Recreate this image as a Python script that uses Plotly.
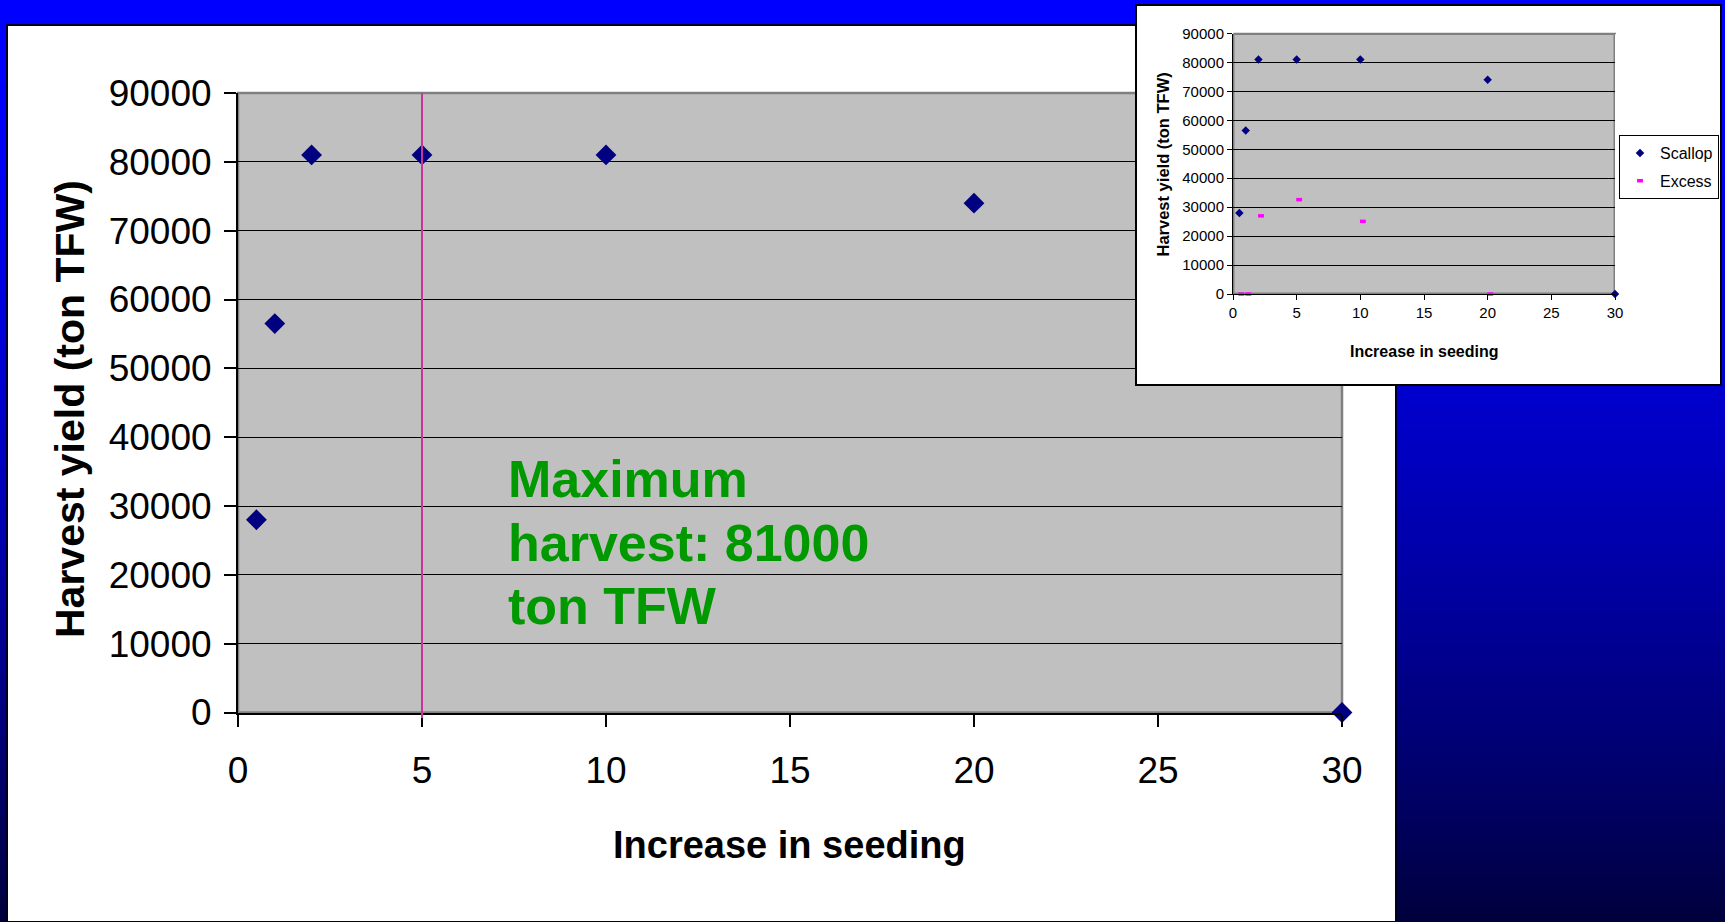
import plotly.graph_objects as go

W, H = 1725, 922

# ---------------- data ----------------
seeding = [0.5, 1, 2, 5, 10, 20, 30]
scallop_yield = [28000, 56500, 81000, 81000, 81000, 74000, 0]
excess_seeding = [0.65, 1.2, 2.2, 5.2, 10.2, 20.2, 30.2]
excess_yield = [0, 0, 27000, 32600, 25100, 0, 0]
max_harvest_seeding = 5
max_harvest_lines = ["Maximum", "harvest: 81000", "ton TFW"]
x_ticks = [0, 5, 10, 15, 20, 25, 30]
y_ticks = [0, 10000, 20000, 30000, 40000, 50000, 60000, 70000, 80000, 90000]
x_range = [0, 30]
y_range = [0, 90000]

FONT = "Arial, 'Liberation Sans', sans-serif"


def px(x):
    return x / W


def py(y):
    return 1 - y / H


# layout boxes in pixels (left, top, right, bottom)
MAIN = (238, 93, 1342, 712.5)
COVER = (1136, 5, 1721, 385)
INSET = (1233, 33.5, 1615, 294)
PANEL = (7, 25, 1396, 922)

fig = go.Figure()

fig.add_trace(go.Scatter(
    x=seeding, y=scallop_yield, mode="markers", xaxis="x", yaxis="y",
    marker=dict(symbol="diamond", size=16, color="#000080"),
    cliponaxis=False, showlegend=False, hoverinfo="skip"))

# empty helper trace so that the inset's white backing subplot exists
fig.add_trace(go.Scatter(
    x=[None], y=[None], mode="markers", xaxis="x2", yaxis="y2",
    showlegend=False, hoverinfo="skip"))

fig.add_trace(go.Scatter(
    x=seeding, y=scallop_yield, mode="markers", xaxis="x3", yaxis="y3",
    name="Scallop", legendgroup="a",
    marker=dict(symbol="diamond", size=6.5, color="#000080"),
    cliponaxis=False))

fig.add_trace(go.Scatter(
    x=excess_seeding, y=excess_yield, mode="markers", xaxis="x3", yaxis="y3",
    name="Excess", legendgroup="b",
    marker=dict(symbol="line-ew", size=4.2, color="#FF00FF",
                line=dict(color="#FF00FF", width=3.5)),
    cliponaxis=False))

shapes = []
# background gradient (blue to dark navy)
N = 120
for i in range(N):
    y0 = H * i / N
    y1 = H * (i + 1) / N
    t = ((y0 + y1) / 2) / H
    b = int(round(255 - 195 * t ** 1.6))
    shapes.append(dict(type="rect", xref="paper", yref="paper", layer="below",
                       x0=0, x1=1, y0=py(min(H, y1 + 1.5)), y1=py(y0),
                       fillcolor=f"rgb(0,0,{b})", line=dict(width=0)))
# white slide panel
shapes.append(dict(type="rect", xref="paper", yref="paper", layer="below",
                   x0=px(PANEL[0]), x1=px(PANEL[2]), y0=py(PANEL[3]), y1=py(PANEL[1]),
                   fillcolor="white", line=dict(color="#000020", width=2)))
# main plot area
shapes.append(dict(type="rect", xref="paper", yref="paper", layer="below",
                   x0=px(MAIN[0]), x1=px(MAIN[2]), y0=py(MAIN[3]), y1=py(MAIN[1]),
                   fillcolor="#C0C0C0", line=dict(color="#808080", width=2.5)))
# inset plot area
shapes.append(dict(type="rect", xref="x3", yref="y3", layer="below",
                   x0=x_range[0], x1=x_range[1], y0=y_range[0], y1=y_range[1],
                   fillcolor="#C0C0C0", line=dict(color="#808080", width=3)))
# grey top borders of plot areas (drawn over the top gridline)
shapes.append(dict(type="line", xref="paper", yref="paper", layer="above",
                   x0=px(MAIN[0] + 1), x1=px(COVER[0]), y0=py(MAIN[1]), y1=py(MAIN[1]),
                   line=dict(color="#808080", width=2)))
shapes.append(dict(type="line", xref="paper", yref="paper", layer="above",
                   x0=px(INSET[0] + 0.5), x1=px(INSET[2] + 1), y0=py(INSET[1]), y1=py(INSET[1]),
                   line=dict(color="#808080", width=1.5)))
# maximum line
shapes.append(dict(type="line", xref="x", yref="y domain", layer="above",
                   x0=max_harvest_seeding, x1=max_harvest_seeding, y0=-0.009, y1=1,
                   line=dict(color="#CC3399", width=2)))
# inset border
shapes.append(dict(type="rect", xref="paper", yref="paper", layer="above",
                   x0=px(COVER[0]), x1=px(COVER[2]), y0=py(COVER[3]), y1=py(COVER[1]),
                   fillcolor="rgba(0,0,0,0)", line=dict(color="black", width=2)))

annotations = [
    dict(text="<b>Harvest yield (ton TFW)</b>", textangle=-90, xref="paper", yref="paper",
         x=px(70), y=py(409), xanchor="center", yanchor="middle", showarrow=False,
         font=dict(family=FONT, size=41, color="black")),
    dict(text="<b>Increase in seeding</b>", xref="paper", yref="paper",
         x=px(789), y=py(845), xanchor="center", yanchor="middle", showarrow=False,
         font=dict(family=FONT, size=38, color="black")),
    dict(text="<b>Harvest yield (ton TFW)</b>", textangle=-90, xref="paper", yref="paper",
         x=px(1162.5), y=py(165), xanchor="center", yanchor="middle", showarrow=False,
         font=dict(family=FONT, size=16.5, color="black")),
    dict(text="<b>Increase in seeding</b>", xref="paper", yref="paper",
         x=px(1424), y=py(351), xanchor="center", yanchor="middle", showarrow=False,
         font=dict(family=FONT, size=16, color="black")),
]
# green note, one line at a time (PowerPoint line spacing)
for k, line in enumerate(max_harvest_lines):
    annotations.append(dict(
        text=f"<b>{line}</b>", xref="paper", yref="paper",
        x=px(506), y=py(479 + 63.5 * k), xanchor="left", yanchor="middle", align="left",
        showarrow=False, font=dict(family=FONT, size=52, color="#009900")))

common_axis = dict(showline=True, linecolor="black", zeroline=False, ticks="outside",
                   tickcolor="black", fixedrange=True, tickformat="d", automargin=False)

fig.update_layout(
    width=W, height=H, autosize=False,
    margin=dict(l=0, r=0, t=0, b=0, pad=0, autoexpand=False),
    paper_bgcolor="white", plot_bgcolor="white",
    font=dict(family=FONT, color="black"),
    shapes=shapes, annotations=annotations,
    xaxis=dict(domain=[px(MAIN[0]), px(MAIN[2])], range=x_range, tickvals=x_ticks,
               showgrid=False, linewidth=2, ticklen=12, tickwidth=1.5,
               tickfont=dict(size=37), anchor="y", ticklabelstandoff=12, **common_axis),
    yaxis=dict(domain=[py(MAIN[3]), py(MAIN[1])], range=y_range, tickvals=y_ticks,
               showgrid=True, gridcolor="black", gridwidth=1, linewidth=2, ticklen=12,
               tickwidth=1.5, tickfont=dict(size=37), anchor="x", ticklabelstandoff=5,
               **common_axis),
    xaxis2=dict(domain=[px(COVER[0]), px(COVER[2])], range=[0, 1], anchor="y2",
                showgrid=False, showline=False, zeroline=False, showticklabels=False,
                ticks="", fixedrange=True, automargin=False),
    yaxis2=dict(domain=[py(COVER[3]), py(COVER[1])], range=[0, 1], anchor="x2",
                showgrid=False, showline=False, zeroline=False, showticklabels=False,
                ticks="", fixedrange=True, automargin=False),
    xaxis3=dict(domain=[px(INSET[0]), px(INSET[2])], range=x_range, tickvals=x_ticks,
                showgrid=False, linewidth=1, ticklen=5, tickwidth=1,
                tickfont=dict(size=15), anchor="y3", **common_axis),
    yaxis3=dict(domain=[py(INSET[3]), py(INSET[1])], range=y_range, tickvals=y_ticks,
                showgrid=True, gridcolor="black", gridwidth=1, linewidth=1, ticklen=5,
                tickwidth=1, tickfont=dict(size=15), anchor="x3", **common_axis),
    showlegend=True,
    legend=dict(x=px(1619), y=py(135), xanchor="left", yanchor="top",
                bgcolor="white", bordercolor="black", borderwidth=1,
                font=dict(family=FONT, size=16, color="black"),
                traceorder="grouped", tracegroupgap=4, itemwidth=30),
)

fig.write_html(
    "out.html",
    config={"responsive": False, "displayModeBar": False},
    post_script="document.body.style.margin='0';document.body.style.overflow='hidden';",
)
